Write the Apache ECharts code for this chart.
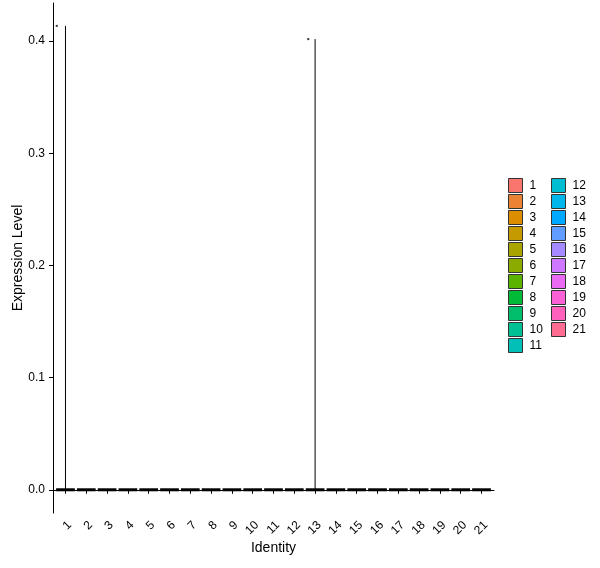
<!DOCTYPE html>
<html>
<head>
<meta charset="utf-8">
<script src="https://cdn.jsdelivr.net/npm/echarts@6/dist/echarts.min.js"></script>
<style>
  html, body { margin: 0; padding: 0; background: #fff; }
  #chart { width: 600px; height: 568px; }
</style>
</head>
<body>
<div id="chart"></div>
<script>
// clusters and their colours
const clusters = ['1', '2', '3', '4', '5', '6', '7', '8', '9', '10', '11',
    '12', '13', '14', '15', '16', '17', '18', '19', '20', '21'];
const clusterColors = ['#F8766D', '#EB8335', '#DC8E00', '#C59900', '#A9A400', '#8CAB00', '#5BB300',
    '#00BA38', '#00BE6C', '#00C094', '#00C0B8', '#00BDD2', '#00B6EB', '#00A9FF',
    '#619CFF', '#A58AFF', '#CF78FF', '#EA6AF1', '#FB61D7', '#FF61BD', '#FF6C91'];
// top of each (flat) violin, most clusters are all zero
const violinTop = [0.4136, 0, 0, 0, 0, 0, 0, 0, 0, 0, 0,
    0, 0.4018, 0, 0, 0, 0, 0, 0, 0, 0];
// jittered non-zero cells
const pointX = [0.58, 12.67];
const pointY = [0.4136, 0.4018];
const yTicks = [0, 0.1, 0.2, 0.3, 0.4];

const chart = echarts.init(document.getElementById('chart'));
const font = 'Liberation Sans, Arial, sans-serif';
const xPos = clusters.map((c, i) => i + 1);

function renderViolin(params, api) {
    const x = api.value(0);
    const top = api.value(1);
    const a = api.coord([x - 0.45, 0]);
    const b = api.coord([x + 0.45, 0]);
    const children = [{
        type: 'line',
        shape: { x1: a[0], y1: a[1], x2: b[0], y2: b[1] },
        style: { stroke: '#000', lineWidth: 3 }
    }];
    if (top > 0) {
        const c0 = api.coord([x, 0]);
        const c1 = api.coord([x, top]);
        children.push({
            type: 'line',
            shape: { x1: c0[0], y1: c0[1], x2: c1[0], y2: c1[1] },
            style: { stroke: '#000', lineWidth: 1 }
        });
    }
    return { type: 'group', children: children };
}

const series = clusters.map((name, i) => ({
    name: name,
    type: 'custom',
    renderItem: renderViolin,
    itemStyle: { color: clusterColors[i] },
    data: [[i + 1, violinTop[i]]],
    z: 2
}));
series.push({
    name: 'cells',
    type: 'scatter',
    symbol: 'rect',
    symbolSize: 2,
    itemStyle: { color: '#000' },
    data: pointX.map((x, i) => [x, pointY[i]]),
    z: 3
});

const legendBase = {
    orient: 'vertical',
    top: 173,
    icon: 'rect',
    itemWidth: 14,
    itemHeight: 14,
    itemGap: 1,
    selectedMode: false,
    itemStyle: { borderColor: '#333', borderWidth: 1 },
    textStyle: { fontFamily: font, fontSize: 12, color: '#000', lineHeight: 14, padding: [0, 0, 0, 2] }
};

const option = {
    animation: false,
    backgroundColor: '#fff',
    grid: { left: 53, right: 106, top: 3, bottom: 55, outerBoundsMode: 'none' },
    legend: [
        Object.assign({}, legendBase, { left: 503, data: clusters.slice(0, 11) }),
        Object.assign({}, legendBase, { left: 546, data: clusters.slice(11) })
    ],
    xAxis: {
        type: 'value',
        min: 0.4,
        max: 21.6,
        name: 'Identity',
        nameLocation: 'middle',
        nameGap: 28,
        nameMoveOverlap: false,
        nameTextStyle: { fontFamily: font, fontSize: 14, color: '#000' },
        axisLine: { lineStyle: { color: '#000', width: 1 } },
        axisTick: { customValues: xPos, length: 4, lineStyle: { color: '#000' } },
        axisLabel: {
            customValues: xPos,
            rotate: 45,
            margin: 6,
            verticalAlign: 'top',
            fontFamily: font,
            fontSize: 12,
            color: '#000',
            formatter: v => clusters[Math.round(v) - 1]
        },
        splitLine: { show: false }
    },
    yAxis: {
        type: 'value',
        min: -0.0207,
        max: 0.434,
        name: 'Expression Level',
        nameLocation: 'middle',
        nameGap: 28,
        nameMoveOverlap: false,
        nameTextStyle: { fontFamily: font, fontSize: 14, color: '#000' },
        axisLine: { show: true, lineStyle: { color: '#000', width: 1 } },
        axisTick: { show: true, customValues: yTicks, length: 4, lineStyle: { color: '#000' } },
        axisLabel: {
            customValues: yTicks,
            margin: 8,
            fontFamily: font,
            fontSize: 12,
            color: '#000',
            formatter: v => v.toFixed(1)
        },
        splitLine: { show: false }
    },
    series: series
};
chart.setOption(option);
</script>
</body>
</html>
